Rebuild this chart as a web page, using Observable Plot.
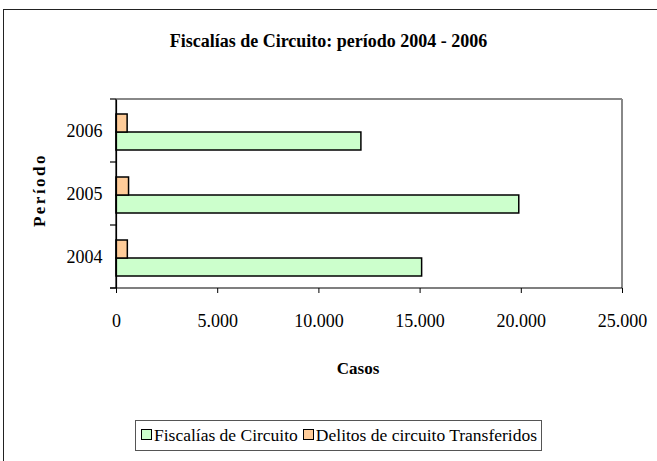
<!DOCTYPE html>
<html>
<head>
<meta charset="utf-8">
<script src="https://cdn.jsdelivr.net/npm/d3@7"></script>
<script src="https://cdn.jsdelivr.net/npm/@observablehq/plot@0.6"></script>
<style>
  html, body { margin: 0; padding: 0; background: #fff; overflow: hidden; }
  #wrap { position: relative; width: 657px; height: 461px; overflow: hidden; font-family: "Liberation Serif", serif; color: #000; }
  #outer { position: absolute; left: 3px; top: 9px; width: 720px; height: 520px; border: 1.5px solid #222; box-sizing: border-box; }
  #chart { position: absolute; left: 0; top: 0; }
  #chart svg, #chart svg text { font-family: "Liberation Serif", serif !important; }
  .title { position: absolute; left: 0; width: 657px; top: 31px; text-align: center; font-weight: bold; font-size: 18px; }
  .ylab { position: absolute; left: 40px; top: 190px; transform: translate(-50%, -50%) rotate(-90deg); font-weight: bold; font-size: 17px; letter-spacing: 2.5px; white-space: nowrap; }
  .xlab { position: absolute; left: 358px; top: 369px; transform: translate(-50%, -50%); font-weight: bold; font-size: 17px; white-space: nowrap; }
  .legend { position: absolute; left: 135px; top: 420px; width: 407px; height: 31px; border: 1.5px solid #555; box-sizing: border-box; display: flex; align-items: center; justify-content: center; font-size: 17.5px; white-space: nowrap; }
  .sw { display: inline-block; width: 9px; height: 9px; border: 1.5px solid #000; margin: 0 2px 0 1px; vertical-align: middle; position: relative; top: -1px; }
</style>
</head>
<body>
<div id="wrap">
  <div id="outer"></div>
  <div id="chart"></div>
  <div class="title">Fiscalías de Circuito: período 2004 - 2006</div>
  <div class="ylab">Período</div>
  <div class="xlab">Casos</div>
  <div class="legend" id="legend"></div>
</div>
<script>
// ---- data ----
const years = ["2004", "2005", "2006"];
const seriesNames = ["Fiscalías de Circuito", "Delitos de circuito Transferidos"];
const fiscalias = [15100, 19900, 12100];
const delitos = [560, 620, 550];
const xTicks = [0, 5000, 10000, 15000, 20000, 25000];
const seriesColors = ["#ccffcc", "#ffcc99"];

const rows = [];
years.forEach((y, i) => {
  rows.push({year: y, series: seriesNames[0], value: fiscalias[i]});
  rows.push({year: y, series: seriesNames[1], value: delitos[i]});
});

const fmt = d3.formatLocale({decimal: ",", thousands: ".", grouping: [3], currency: ["", ""]}).format(",d");

const plot = Plot.plot({
  width: 657,
  height: 461,
  marginLeft: 116,
  marginRight: 35,
  marginTop: 98,
  marginBottom: 173,
  style: {fontFamily: "'Liberation Serif', serif", fontSize: "18px", background: "transparent", color: "#000"},
  x: {domain: [0, 25000], nice: false},
  fy: {domain: years.slice().reverse(), padding: 0},
  y: {domain: [seriesNames[1], seriesNames[0]], paddingInner: 0, paddingOuter: 0.67, align: 0.55, axis: null},
  color: {domain: seriesNames, range: seriesColors},
  marks: [
    Plot.barX(rows, {fy: "year", y: "series", x: "value", fill: "series", stroke: "#000", strokeWidth: 1.5}),
    Plot.axisX({ticks: xTicks, tickFormat: fmt, tickSize: 5, tickPadding: 21, label: null, stroke: "#000"}),
    Plot.axisFy({anchor: "left", tickSize: 0, tickPadding: 14, label: null}),
    Plot.ruleX([0], {stroke: "#000", strokeWidth: 1.2})
  ]
});
document.getElementById("chart").appendChild(plot);

// frame lines and boundary ticks, positioned from the library's scales
(function () {
  const X = plot.scale("x"), FY = plot.scale("fy");
  const svg = d3.select(plot);
  const x0 = X.apply(0), x1 = X.apply(25000);
  const fyDom = years.slice().reverse();
  const yTop = FY.apply(fyDom[0]);
  const yBottom = FY.apply(fyDom[fyDom.length - 1]) + FY.bandwidth;
  const g = svg.append("g");
  g.append("line").attr("x1", x0).attr("x2", x1).attr("y1", yTop).attr("y2", yTop).attr("stroke", "#888").attr("stroke-width", 2);
  g.append("line").attr("x1", x1).attr("x2", x1).attr("y1", yTop).attr("y2", yBottom).attr("stroke", "#888").attr("stroke-width", 2);
  g.append("line").attr("x1", x0 - 6).attr("x2", x1).attr("y1", yBottom).attr("y2", yBottom).attr("stroke", "#000").attr("stroke-width", 1.2);
  g.append("line").attr("x1", x0).attr("x2", x0).attr("y1", yTop).attr("y2", yBottom).attr("stroke", "#000").attr("stroke-width", 1.2);
  const bounds = fyDom.map(d => FY.apply(d)).concat([yBottom]);
  bounds.forEach(b => {
    g.append("line").attr("x1", x0 - 6).attr("x2", x0).attr("y1", b).attr("y2", b).attr("stroke", "#000").attr("stroke-width", 1.2);
  });
})();

// legend
const leg = document.getElementById("legend");
seriesNames.forEach((s, i) => {
  const sw = document.createElement("span");
  sw.className = "sw";
  sw.style.background = seriesColors[i];
  leg.appendChild(sw);
  const t = document.createElement("span");
  t.textContent = s;
  t.style.marginRight = i === 0 ? "4px" : "0";
  leg.appendChild(t);
});
</script>
</body>
</html>
